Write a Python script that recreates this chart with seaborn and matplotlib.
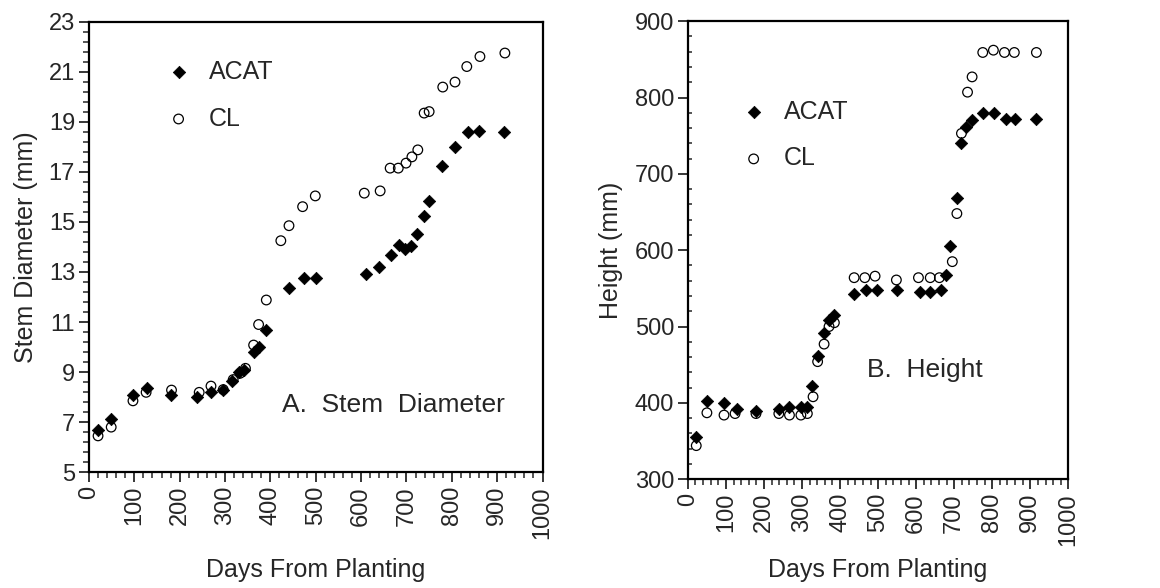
import numpy as np
import pandas as pd
import seaborn as sns
import matplotlib.pyplot as plt
from matplotlib.ticker import MultipleLocator, FixedLocator

# --- A. stem diameter (mm) ---
stem_acat_days = [20, 49, 96, 129, 180, 239, 269, 296, 316, 331, 342, 363, 375, 391,
                  440, 473, 500, 611, 640, 667, 684, 697, 710, 723, 738, 749, 778, 806,
                  835, 861, 916]
stem_acat = [6.68, 7.12, 8.1, 8.37, 8.08, 8.01, 8.2, 8.3, 8.65, 9.0, 9.08, 9.8, 10.0, 10.68,
             12.35, 12.77, 12.77, 12.92, 13.19, 13.67, 14.08, 13.9, 14.05, 14.5, 15.24, 15.84,
             17.25, 18.0, 18.59, 18.65, 18.59]
stem_cl_days = [20, 49, 97, 126, 182, 243, 269, 296, 318, 333, 345, 363, 374, 391,
                423, 441, 471, 499, 607, 642, 664, 682, 699, 712, 725, 739, 750, 780,
                807, 833, 862, 917]
stem_cl = [6.45, 6.8, 7.85, 8.19, 8.28, 8.19, 8.44, 8.3, 8.7, 8.95, 9.15, 10.08, 10.9, 11.88,
           14.25, 14.85, 15.61, 16.04, 16.15, 16.24, 17.15, 17.15, 17.35, 17.6, 17.88, 19.35,
           19.41, 20.39, 20.59, 21.21, 21.61, 21.75]

# --- B. height (mm) ---
ht_acat_days = [22, 50, 95, 129, 179, 239, 267, 297, 314, 327, 341, 358, 371, 384,
                437, 469, 497, 550, 609, 637, 664, 679, 690, 707, 719, 732, 747, 775,
                804, 835, 860, 916]
ht_acat = [355, 403, 400, 392, 389, 392, 395, 395, 395, 422, 461, 492, 508, 515,
           542, 548, 548, 548, 545, 545, 548, 567, 605, 669, 741, 761, 770, 780,
           780, 772, 772, 772]
ht_cl_days = [22, 50, 95, 124, 179, 239, 267, 297, 314, 329, 341, 358, 371, 385,
              437, 465, 492, 548, 606, 637, 661, 695, 707, 719, 735, 747, 775, 803,
              832, 858, 916]
ht_cl = [344, 387, 384, 386, 386, 386, 384, 384, 386, 408, 454, 477, 500, 505,
         564, 564, 566, 561, 564, 564, 564, 585, 648, 753, 807, 827, 859, 862,
         859, 859, 859]

x_ticks = list(range(0, 1001, 100))

sns.set_style("ticks")
plt.rcParams["font.family"] = ["Liberation Sans", "DejaVu Sans"]

fig = plt.figure(figsize=(11.6, 5.88), dpi=100)
ax1 = fig.add_axes([0.0767, 0.197, 0.391, 0.766])
ax2 = fig.add_axes([0.593, 0.185, 0.328, 0.779])

fs_tick = 17
fs_lab = 18


def draw(ax, xa, ya, xc, yc, legend_anchor, xpad):
    sns.scatterplot(x=xa, y=ya, ax=ax, marker="D", color="black", s=40,
                    edgecolor="black", linewidth=0.5, label="ACAT", zorder=3)
    sns.scatterplot(x=xc, y=yc, ax=ax, marker="o", facecolor="none", s=48,
                    edgecolor="black", linewidth=0.9, label="CL", zorder=2)
    ax.set_xlim(0, 1000)
    ax.set_xticks(x_ticks)
    ax.set_xticklabels([str(t) for t in x_ticks], rotation=90)
    ax.xaxis.set_minor_locator(MultipleLocator(20))
    ax.set_xlabel("Days From Planting", fontsize=fs_lab, labelpad=xpad)
    ax.tick_params(axis="both", which="major", direction="out", length=7, width=1.3,
                   labelsize=fs_tick, pad=3)
    ax.tick_params(axis="x", which="minor", direction="out", length=4, width=1.1)
    for sp in ax.spines.values():
        sp.set_linewidth(1.6)
        sp.set_color("black")
    ax.legend(loc="upper left", bbox_to_anchor=legend_anchor,
              frameon=False, fontsize=fs_lab, handlelength=1.0, handletextpad=0.7,
              labelspacing=0.9, borderaxespad=0, borderpad=0)


draw(ax1, stem_acat_days, stem_acat, stem_cl_days, stem_cl, (0.17, 0.915), 14)
ax1.set_ylim(5, 23)
ax1.set_yticks(range(5, 24, 2))
ax1.yaxis.set_minor_locator(FixedLocator(np.arange(5, 23.01, 0.4)))
ax1.tick_params(axis="y", which="minor", direction="out", length=4, width=1.1)
ax1.set_ylabel("Stem Diameter (mm)", fontsize=fs_lab, labelpad=8)
ax1.text(0.918, 0.149, "A.  Stem  Diameter", transform=ax1.transAxes, ha="right",
         va="center", fontsize=fs_lab + 1)

draw(ax2, ht_acat_days, ht_acat, ht_cl_days, ht_cl, (0.14, 0.828), 9)
ax2.set_ylim(300, 900)
ax2.set_yticks(range(300, 901, 100))
ax2.yaxis.set_minor_locator(MultipleLocator(20))
ax2.tick_params(axis="y", which="minor", direction="in", length=3, width=1.1)
ax2.set_ylabel("Height (mm)", fontsize=fs_lab, labelpad=8)
ax2.text(0.47, 0.238, "B.  Height", transform=ax2.transAxes, ha="left",
         va="center", fontsize=fs_lab + 1)

fig.savefig("out.png", dpi=100)
